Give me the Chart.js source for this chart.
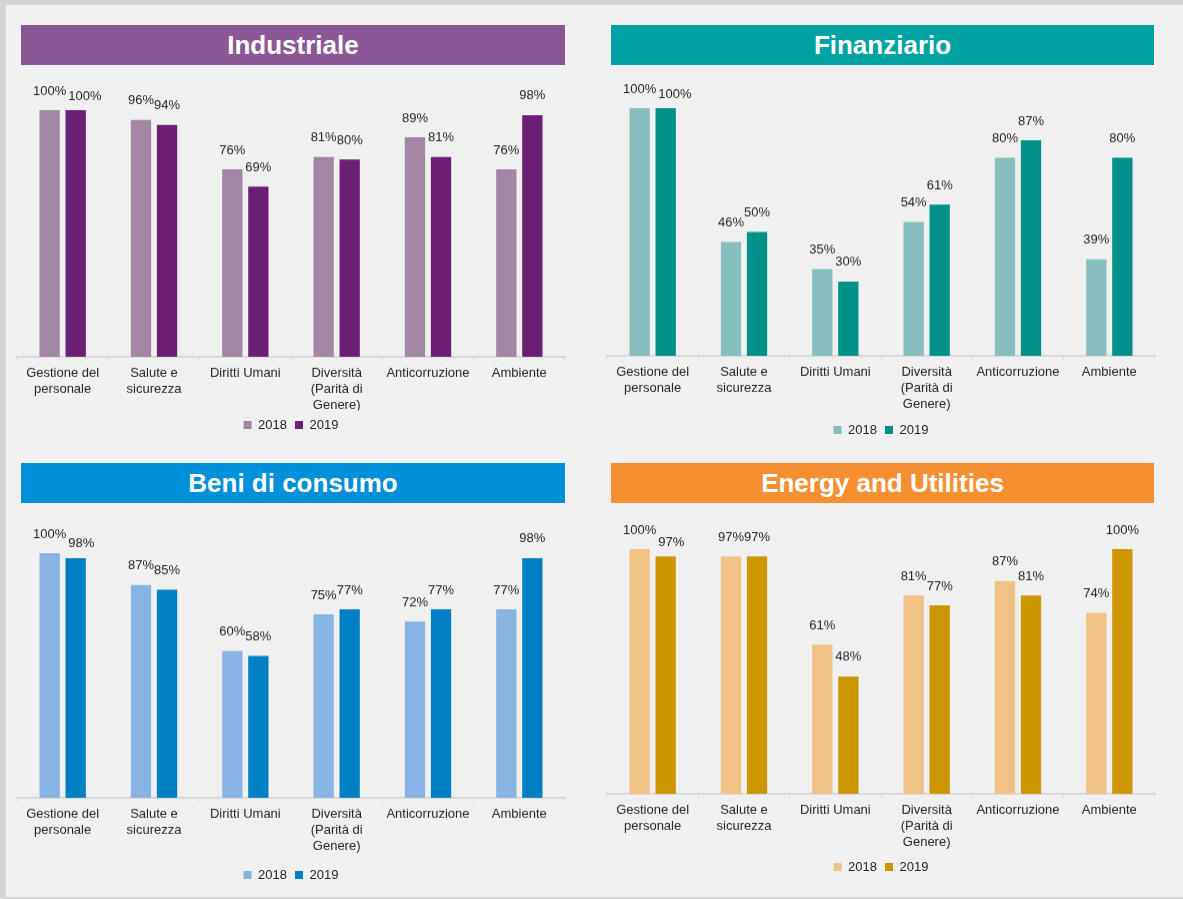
<!DOCTYPE html>
<html lang="it">
<head>
<meta charset="utf-8">
<title>Temi ESG per settore 2018-2019</title>
<script src="https://cdn.jsdelivr.net/npm/chart.js@4.4.1/dist/chart.umd.min.js"></script>
<style>
  html, body { margin: 0; padding: 0; }
  body {
    width: 1183px; height: 899px; position: relative; overflow: hidden;
    background: #d5d5d5;
    font-family: "Liberation Sans", Arial, sans-serif;
  }
  #sfondo { position: absolute; left: 6px; top: 5px; width: 1177px; height: 892px; background: #f0f0f0; }
  .titolo {
    position: absolute; height: 40px; line-height: 40px;
    color: #fff; font-weight: bold; font-size: 26px; text-align: center;
  }
  .grafico { position: absolute; width: 568px; }
</style>
</head>
<body>
<div id="sfondo"></div>

<div class="titolo" style="left:21px;top:25px;width:544px;background:#8b5796">Industriale</div>
<div class="titolo" style="left:611px;top:25px;width:543px;background:#00a3a2">Finanziario</div>
<div class="titolo" style="left:21px;top:463px;width:544px;background:#0090da">Beni di consumo</div>
<div class="titolo" style="left:611px;top:463px;width:543px;background:#f58f32">Energy and Utilities</div>

<div class="grafico" id="box-industriale" style="left:7px"><canvas id="industriale"></canvas></div>
<div class="grafico" id="box-finanziario" style="left:597px"><canvas id="finanziario"></canvas></div>
<div class="grafico" id="box-beni" style="left:7px"><canvas id="beni"></canvas></div>
<div class="grafico" id="box-energy" style="left:597px"><canvas id="energy"></canvas></div>

<script>
// categorie e anni comuni ai quattro settori
const categorie = [
  ['Gestione del', 'personale'],
  ['Salute e', 'sicurezza'],
  'Diritti Umani',
  ['Diversità', '(Parità di', 'Genere)'],
  'Anticorruzione',
  'Ambiente'
];
const anni = ['2018', '2019'];

// percentuali per settore
const industriale2018 = [100, 96, 76, 81, 89, 76];
const industriale2019 = [100, 94, 69, 80, 81, 98];
const finanziario2018 = [100, 46, 35, 54, 80, 39];
const finanziario2019 = [100, 50, 30, 61, 87, 80];
const beni2018 = [100, 87, 60, 75, 72, 77];
const beni2019 = [98, 85, 58, 77, 77, 98];
const energy2018 = [100, 97, 61, 81, 87, 74];
const energy2019 = [97, 97, 48, 77, 81, 100];

Chart.defaults.font.family = '"Liberation Sans", Arial, sans-serif';
Chart.defaults.color = '#333';

const FONT = 13;
const LEGEND_PAD = 8;

// etichette "xx%" sopra le barre, spostate se le due del gruppo si toccano
const etichetteValori = {
  id: 'etichetteValori',
  afterDatasetsDraw(chart) {
    const ctx = chart.ctx;
    ctx.save();
    ctx.font = FONT + 'px "Liberation Sans", Arial, sans-serif';
    ctx.fillStyle = '#262626';
    ctx.textAlign = 'center';
    ctx.textBaseline = 'middle';
    const m0 = chart.getDatasetMeta(0);
    const m1 = chart.getDatasetMeta(1);
    m0.data.forEach((b0, i) => {
      const b1 = m1.data[i];
      const t0 = chart.data.datasets[0].data[i] + '%';
      const t1 = chart.data.datasets[1].data[i] + '%';
      const w0 = ctx.measureText(t0).width;
      const w1 = ctx.measureText(t1).width;
      let x0 = b0.x, y0 = b0.y - 19;
      let x1 = b1.x, y1 = b1.y - 19;
      const sovrapp = (x0 + w0 / 2) - (x1 - w1 / 2);
      if (sovrapp > 0 && Math.abs(y0 - y1) < 14) {
        x1 += sovrapp + 2;
        y1 += 5;
      }
      ctx.fillText(t0, x0, y0);
      ctx.fillText(t1, x1, y1);
    });
    ctx.restore();
  }
};

function creaGrafico(id, dati2018, dati2019, colori, pos) {
  // pos: top del canvas, y della barra al 100%, y dell'asse, y della legenda
  const padTop = pos.y100 - pos.top;
  const xH = pos.legenda - LEGEND_PAD - FONT / 2 - pos.asse;
  const legH = LEGEND_PAD * 2 + FONT + 2;
  const box = document.getElementById('box-' + id);
  box.style.top = pos.top + 'px';
  box.style.height = (padTop + (pos.asse - pos.y100) + xH + legH) + 'px';

  new Chart(document.getElementById(id), {
    type: 'bar',
    data: {
      labels: categorie,
      datasets: [
        { label: anni[0], data: dati2018, backgroundColor: colori[0] },
        { label: anni[1], data: dati2019, backgroundColor: colori[1] }
      ]
    },
    options: {
      responsive: true,
      maintainAspectRatio: false,
      animation: false,
      categoryPercentage: 0.57,
      barPercentage: 0.78,
      layout: { padding: { top: padTop, left: 10, right: 10, bottom: 0 } },
      scales: {
        x: {
          grid: { drawOnChartArea: false, drawTicks: true, tickLength: 4, color: '#d9d9d9', offset: true },
          border: { color: '#d9d9d9', width: 2 },
          ticks: {
            color: '#262626', font: { size: FONT, lineHeight: 1.25 },
            padding: 4, maxRotation: 0, autoSkip: false
          },
          afterFit(scale) { scale.height = xH; }
        },
        y: { display: false, min: 0, max: 100 }
      },
      plugins: {
        legend: {
          position: 'bottom',
          labels: { boxWidth: 8, boxHeight: 8, color: '#262626', font: { size: FONT }, padding: LEGEND_PAD }
        },
        tooltip: { enabled: false }
      }
    },
    plugins: [etichetteValori]
  });
}

creaGrafico('industriale', industriale2018, industriale2019, ['#a287a4', '#6b1f75'],
  { top: 66, y100: 110, asse: 356, legenda: 424 });
creaGrafico('finanziario', finanziario2018, finanziario2019, ['#86bfbd', '#00908a'],
  { top: 66, y100: 108, asse: 355, legenda: 429 });
creaGrafico('beni', beni2018, beni2019, ['#88b4e3', '#0080c4'],
  { top: 504, y100: 553, asse: 797, legenda: 874 });
creaGrafico('energy', energy2018, energy2019, ['#f0c285', '#cc9600'],
  { top: 504, y100: 549, asse: 793, legenda: 866 });
</script>
</body>
</html>
